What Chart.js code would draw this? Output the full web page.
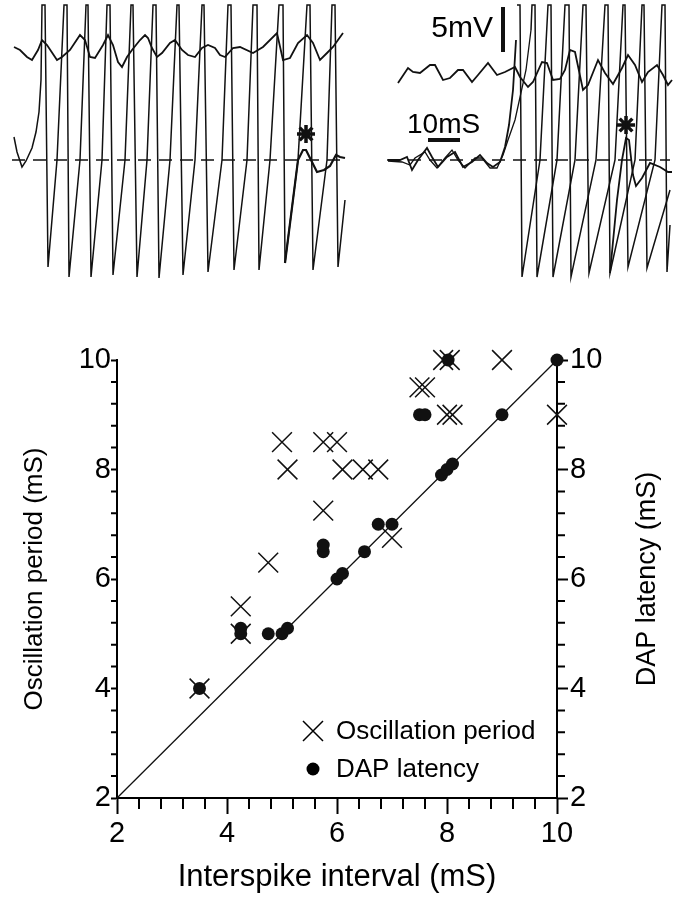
<!DOCTYPE html>
<html>
<head>
<meta charset="utf-8">
<script src="https://cdn.jsdelivr.net/npm/chart.js@4/dist/chart.umd.min.js"></script>
<style>
  html, body { margin: 0; padding: 0; background: #fff; }
  #wrap { position: relative; width: 679px; height: 900px; }
  #top { position: absolute; left: 0; top: 0; }
  #bottom { position: absolute; left: 0; top: 290px; }
</style>
</head>
<body>
<div id="wrap">
  <canvas id="top" width="679" height="290"></canvas>
  <canvas id="bottom" width="679" height="610"></canvas>
</div>
<script>
// ---------------- Scatter plot data ----------------
const oscInterval = [3.5, 4.25, 4.25, 4.75, 5.0, 5.1, 5.75, 5.75, 6.0, 6.1, 6.47, 6.75, 7.0, 7.5, 7.6, 7.93, 8.05, 8.0, 8.1, 9.0, 10.0];
const oscPeriod   = [4.0, 5.0,  5.5,  6.3,  8.5, 8.0, 8.5,  7.25, 8.5, 8.0, 8.0,  8.0,  6.75, 9.5, 9.5, 10.0, 10.0, 9.0, 9.0, 10.0, 9.0];
const dapInterval = [3.5, 4.25, 4.25, 4.75, 5.0, 5.1, 5.75, 5.75, 6.0, 6.1, 6.5, 6.75, 7.0, 7.5, 7.6, 7.9, 8.0, 8.1, 8.02, 9.0, 10.0];
const dapLatency  = [4.0, 5.0,  5.1,  5.0,  5.0, 5.1, 6.5,  6.62, 6.0, 6.1, 6.5, 7.0,  7.0, 9.0, 9.0, 7.9, 8.0, 8.1, 10.0, 9.0, 10.0];
const identityLine = [2, 10];
const majorTicks = [2, 4, 6, 8, 10];
const minorTicks = [2.4, 2.8, 3.2, 3.6, 4.4, 4.8, 5.2, 5.6, 6.4, 6.8, 7.2, 7.6, 8.4, 8.8, 9.2, 9.6];

// ---------------- Voltage traces (in picture units) ----------------
const spikeTop = 5;
const dashLevel = 160;
// left panel
const leftWave = [[14,47],[20,50],[27,57],[32,60],[38,50],[42,40],[47,45],[57,60],[62,57],[70,50],[80,35],[85,40],[90,57],[95,58],[103,45],[108,35],[113,45],[118,62],[122,67],[127,57],[132,50],[140,40],[145,35],[148,38],[152,48],[157,57],[162,53],[170,43],[175,40],[182,50],[188,55],[195,57],[202,48],[208,45],[215,48],[220,55],[225,57],[233,48],[240,47],[253,53],[263,47],[277,33],[283,60],[290,58],[298,43],[307,35],[313,43],[320,60],[327,53],[333,47],[343,33]];
const leftStart = [[14,137],[17,152],[22,167],[26,161],[32,148],[36,132],[39,112],[41,80]];
const leftUp    = [42, 64, 86, 107, 131, 153, 177, 202, 228, 253, 279, 307, 332];
const leftDown  = [45, 67, 88, 110, 133, 156, 179, 204, 231, 257, 283, 310, 335];
const leftTrX   = [48, 69, 91, 113, 137, 159, 183, 208, 234, 259, 285, 313, 338];
const leftTrY   = [267,277,277,275,277,278,275,272,270,270,263,270,267];
const leftCross = [null, 57, 80, 102, 125, 147, 170, 195, 222, 247, 270, 298, 327];
const leftEnd   = [[345,200]];
const leftDap   = [[285,263],[298,160],[303,150],[306,150],[310,158],[317,172],[324,170],[330,166],[336,155],[340,157],[345,158]];
const leftDash  = [12, 345];
const leftStar  = [306, 134];
// right panel
const rightWave = [[398,83],[408,68],[413,72],[420,73],[430,65],[435,65],[443,80],[450,78],[458,70],[463,70],[472,82],[478,75],[488,63],[497,75],[505,72],[515,67],[520,77],[528,87],[533,82],[542,62],[547,63],[553,80],[560,79],[565,70],[570,50],[575,52],[583,90],[588,85],[598,60],[605,73],[613,84],[622,68],[628,55],[635,65],[642,82],[648,72],[657,65],[663,75],[668,85],[672,80]];
const rightBaseA = [[388,160],[400,160],[407,157],[412,170],[418,160],[427,148],[432,157],[438,167],[447,157],[455,152],[463,167],[472,162],[480,155],[487,163],[493,167],[500,162],[505,147],[509,125],[513,90],[516,40]];
const rightBaseB = [[388,161],[402,162],[410,165],[415,158],[425,152],[430,160],[437,168],[445,158],[452,150],[458,160],[465,168],[475,158],[482,158],[490,168],[497,168],[503,155],[508,140],[515,120],[526,70],[531,30]];
const rightAUp   = [517, 548, 583, 623, 662];
const rightADown = [520, 551, 586, 625, 665];
const rightATrX  = [522, 553, 589, 628, 667];
const rightATrY  = [277, 277, 273, 267, 272];
const rightACross= [null, 540, 575, 615, 655];
const rightAEnd  = [[670,225]];
const rightBUp   = [532, 565, 605, 642];
const rightBDown = [535, 569, 608, 644];
const rightBTrX  = [537, 571, 610, 647];
const rightBTrY  = [277, 277, 273, 268];
const rightBCross= [null, 557, 596, 635];
const rightBEnd  = [[670,190]];
const rightDap   = [[610,273],[617,200],[622,160],[626,138],[629,140],[633,175],[636,186],[642,178],[650,163],[660,167],[668,172],[672,172]];
const rightDash  = [387, 670];
const rightStar  = [626, 125];
const barVolt = [[503,7],[503,52]];
const barTime = [[428,140],[460,140]];

const INK = '#111';
const FONT = '"Liberation Sans", Arial, Helvetica, sans-serif';
Chart.defaults.font.family = FONT;
Chart.defaults.color = '#000';

function pts(list) { return list.map(p => ({x: p[0], y: p[1]})); }
function train(start, up, down, trX, trY, cross, end) {
  const out = pts(start);
  for (let i = 0; i < up.length; i++) {
    if (cross[i] !== null) out.push({x: cross[i], y: dashLevel});
    out.push({x: up[i], y: spikeTop});
    out.push({x: down[i], y: spikeTop});
    out.push({x: trX[i], y: trY[i]});
  }
  return out.concat(pts(end));
}
function traceDs(data, w, extra) {
  return Object.assign({data, showLine: true, borderColor: INK, borderWidth: w, pointRadius: 0, tension: 0, fill: false}, extra || {});
}

const topTexts = {
  id: 'topTexts',
  afterDatasetsDraw(chart) {
    const ctx = chart.ctx, xs = chart.scales.x, ys = chart.scales.y;
    ctx.save();
    ctx.fillStyle = '#000';
    ctx.font = '30px ' + FONT;
    ctx.textAlign = 'right';
    ctx.textBaseline = 'alphabetic';
    ctx.fillText('5mV', xs.getPixelForValue(493), ys.getPixelForValue(37));
    ctx.font = '28px ' + FONT;
    ctx.textAlign = 'left';
    ctx.fillText('10mS', xs.getPixelForValue(407), ys.getPixelForValue(133));
    ctx.restore();
  }
};

new Chart(document.getElementById('top'), {
  type: 'scatter',
  data: { datasets: [
    traceDs(pts(leftWave), 1.8),
    traceDs(train(leftStart, leftUp, leftDown, leftTrX, leftTrY, leftCross, leftEnd), 1.5),
    traceDs(pts(leftDap), 2.2),
    traceDs([{x: leftDash[0], y: dashLevel}, {x: leftDash[1], y: dashLevel}], 1.5, {borderDash: [13, 8]}),
    traceDs(pts(rightWave), 1.8),
    traceDs(pts(rightBaseA), 1.8),
    traceDs(pts(rightBaseB), 1.3),
    traceDs(train([], rightAUp, rightADown, rightATrX, rightATrY, rightACross, rightAEnd), 1.5),
    traceDs(train(rightBaseB.slice(-1), rightBUp, rightBDown, rightBTrX, rightBTrY, rightBCross, rightBEnd), 1.5),
    traceDs(pts(rightDap), 1.8),
    traceDs([{x: rightDash[0], y: dashLevel}, {x: rightDash[1], y: dashLevel}], 1.5, {borderDash: [13, 8]}),
    traceDs(pts(barVolt), 4, {borderCapStyle: 'butt'}),
    traceDs(pts(barTime), 4, {borderCapStyle: 'butt'}),
    {data: [{x: leftStar[0], y: leftStar[1]}, {x: rightStar[0], y: rightStar[1]}], pointStyle: 'star', pointRadius: 9, borderWidth: 3.5, borderColor: INK, backgroundColor: INK, showLine: false}
  ]},
  options: {
    responsive: false, animation: false, clip: false,
    layout: { padding: 0, autoPadding: false },
    scales: {
      x: { type: 'linear', min: 0, max: 679, display: false },
      y: { type: 'linear', min: 0, max: 290, reverse: true, display: false }
    },
    plugins: { legend: { display: false }, tooltip: { enabled: false } }
  },
  plugins: [topTexts]
});

// Bottom scatter: minor ticks, right title, legend
const extras = {
  id: 'extras',
  afterDraw(chart) {
    const ctx = chart.ctx, a = chart.chartArea;
    const sx = chart.scales.x, sy = chart.scales.y, sy2 = chart.scales.y2;
    ctx.save();
    ctx.strokeStyle = '#000';
    ctx.lineWidth = 2;
    ctx.beginPath();
    minorTicks.forEach(v => {
      const px = sx.getPixelForValue(v);
      ctx.moveTo(px, a.bottom); ctx.lineTo(px, a.bottom + 11);
      const py = sy.getPixelForValue(v);
      ctx.moveTo(a.left, py); ctx.lineTo(a.left - 6, py);
      const py2 = sy2.getPixelForValue(v);
      ctx.moveTo(a.right, py2); ctx.lineTo(a.right + 8, py2);
    });
    ctx.stroke();
    // right axis title (reads bottom-to-top)
    ctx.fillStyle = '#000';
    ctx.font = '27px ' + FONT;
    ctx.textAlign = 'center';
    ctx.textBaseline = 'middle';
    ctx.translate(648, (a.top + a.bottom) / 2);
    ctx.rotate(-Math.PI / 2);
    ctx.fillText('DAP latency (mS)', 0, 0);
    ctx.restore();
    // legend
    ctx.save();
    const lx = a.left + 196, ly1 = a.top + 371, ly2 = a.top + 409;
    ctx.strokeStyle = '#000'; ctx.lineWidth = 1.5;
    ctx.beginPath();
    ctx.moveTo(lx - 10, ly1 - 10); ctx.lineTo(lx + 10, ly1 + 10);
    ctx.moveTo(lx + 10, ly1 - 10); ctx.lineTo(lx - 10, ly1 + 10);
    ctx.stroke();
    ctx.fillStyle = '#000';
    ctx.beginPath(); ctx.arc(lx, ly2, 6.5, 0, Math.PI * 2); ctx.fill();
    ctx.font = '26px ' + FONT;
    ctx.textAlign = 'left'; ctx.textBaseline = 'middle';
    ctx.fillText('Oscillation period', lx + 23, ly1 + 1);
    ctx.fillText('DAP latency', lx + 23, ly2 + 1);
    ctx.restore();
  }
};

function axisBase(pos, tickLen, pad) {
  return {
    type: 'linear', position: pos, min: 2, max: 10,
    afterBuildTicks: s => { s.ticks = majorTicks.map(v => ({value: v})); },
    ticks: { font: { size: 29 }, color: '#000', padding: pad, callback: v => String(v) },
    grid: { drawOnChartArea: false, drawTicks: true, tickLength: tickLen, tickWidth: 2, tickColor: '#000' },
    border: { display: true, color: '#000', width: 2 }
  };
}

const xAxis = axisBase('bottom', 16, 3);
xAxis.afterFit = s => { s.height = 102; };
xAxis.title = { display: true, text: 'Interspike interval (mS)', font: { size: 31 }, color: '#000', padding: { top: 0, bottom: 4 } };
const yAxis = axisBase('left', 6, 0);
yAxis.afterFit = s => { s.width = 117; };
yAxis.title = { display: true, text: 'Oscillation period (mS)', font: { size: 26 }, color: '#000', padding: { top: 19, bottom: 0 } };
const y2Axis = axisBase('right', 11, 2);
y2Axis.afterFit = s => { s.width = 122; };

new Chart(document.getElementById('bottom'), {
  type: 'scatter',
  data: { datasets: [
    { label: 'DAP latency', data: dapInterval.map((v, i) => ({x: v, y: dapLatency[i]})), yAxisID: 'y2',
      pointStyle: 'circle', pointRadius: 6.5, pointBackgroundColor: INK, pointBorderColor: INK, pointBorderWidth: 0 },
    { label: 'Oscillation period', data: oscInterval.map((v, i) => ({x: v, y: oscPeriod[i]})), yAxisID: 'y',
      pointStyle: 'crossRot', pointRadius: 14, pointBorderColor: INK, pointBorderWidth: 1.5 },
    { label: 'identity', data: identityLine.map(v => ({x: v, y: v})), yAxisID: 'y', showLine: true,
      borderColor: INK, borderWidth: 1.3, pointRadius: 0, tension: 0 }
  ]},
  options: {
    responsive: false, animation: false, clip: false,
    layout: { padding: { top: 70, left: 0, right: 0, bottom: 0 } },
    scales: { x: xAxis, y: yAxis, y2: y2Axis },
    plugins: { legend: { display: false }, tooltip: { enabled: false } }
  },
  plugins: [extras]
});
</script>
</body>
</html>
